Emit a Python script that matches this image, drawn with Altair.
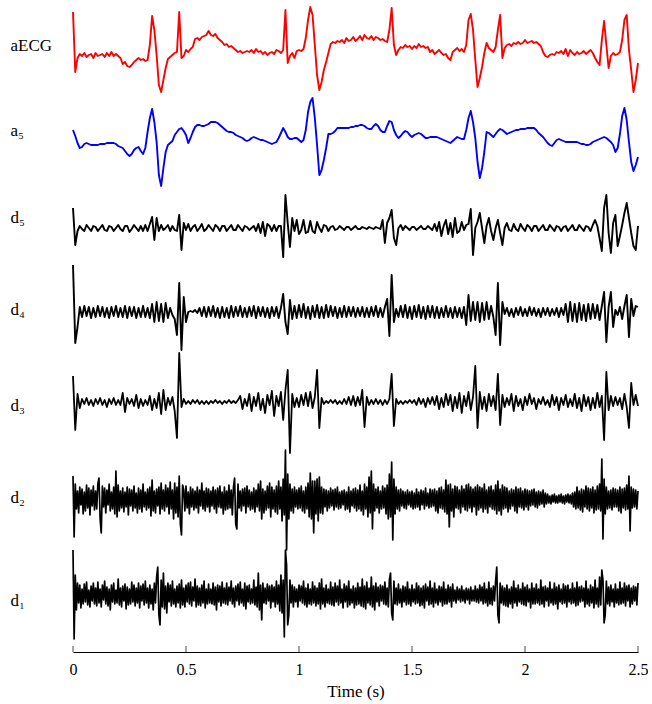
import altair as alt
import pandas as pd

tick_values = [0, 0.5, 1, 1.5, 2, 2.5]

# sampled every 0.01 s
aecg = [
    38, -22, -8, -4, -6, -3, -7, -5, -4, -8,
    -3, -6, -5, -4, -7, -3, -6, -2, -6, -4,
    -6, -8, -14, -12, -16, -17, -15, -12, -10, -8,
    -10, -9, -11, -10, 5, 34, 20, -5, -35, -42,
    -30, -18, -9, -7, -5, -3, -2, 38, -8, -6,
    0, -2, 1, 3, 11, 12, 10, 13, 14, 15,
    19, 15, 14, 16, 12, 10, 8, 5, 6, 3,
    4, 2, 0, -2, -1, -3, -2, -1, -2, 0,
    -3, 1, -2, -1, -4, -2, -5, -3, -2, -4,
    0, -1, -3, 0, 40, -13, -6, -3, -8, -1,
    0, -1, 1, 12, 30, 43, 35, 5, -25, -40,
    -32, -20, -12, -3, 6, 8, 7, 9, 8, 10,
    7, 12, 9, 10, 13, 9, 11, 14, 10, 15,
    12, 11, 14, 10, 13, 12, 10, 11, 9, 8,
    20, 42, 5, -5, 0, 3, 2, 5, 3, 4,
    1, 4, 2, 6, 3, 4, 2, 3, -2, 0,
    -4, -2, 0, -3, -5, -4, -8, -10, -2, 0,
    2, -1, 1, -2, 5, 30, 36, 20, -10, -37,
    -28, -17, -3, 7, 2, 0, -2, 3, 20, 35,
    -8, 2, 5, 6, 4, 7, 6, 8, 6, 7,
    10, 7, 8, 9, 7, 8, 6, 4, -2, -6,
    -7, -5, -4, -5, -2, -3, -1, -4, 1, -6,
    0, -3, -5, -2, -4, -3, -1, -4, -2, 0,
    -3, -8, -12, -15, 10, 29, 5, -18, -6, -3,
    -5, -4, -2, 10, 30, 35, 0, -20, -42, -30,
    -13,
]

# sampled every 0.01 s
a5 = [
    0, -6, -13, -18, -17, -14, -13, -14, -15, -15,
    -15, -15, -14, -14, -14, -13, -13, -13, -13, -14,
    -16, -17, -18, -21, -24, -26, -24, -20, -18, -17,
    -21, -24, -18, -2, 12, 21, 8, -12, -45, -56,
    -38, -22, -15, -13, -11, -5, -2, 1, 2, -1,
    -5, -13, -8, -2, 3, 5, 5, 4, 4, 5,
    6, 8, 8, 8, 7, 5, 3, 1, -1, -2,
    -2, -3, -5, -6, -7, -8, -10, -11, -10, -8,
    -7, -8, -9, -10, -10, -11, -12, -13, -14, -13,
    -12, -8, -3, 2, -2, -7, -9, -9, -8, -8,
    -10, -12, -10, 0, 18, 28, 32, 12, -15, -45,
    -40, -30, -18, -4, -4, -3, -1, 2, 2, 2,
    2, 2, 2, 3, 3, 4, 4, 5, 5, 4,
    2, 1, 1, 4, 6, 4, 0, -2, -2, 4,
    9, 8, 0, -5, -8, -6, -3, -1, -2, -5,
    -7, -5, -4, -3, -4, -6, -8, -8, -7, -7,
    -7, -7, -8, -9, -10, -11, -12, -13, -11, -9,
    -7, -8, -9, -9, 0, 12, 19, 8, -8, -32,
    -48, -38, -22, -2, -3, -5, -7, -4, -1, 1,
    0, -2, -4, -3, -2, -1, 0, 0, 1, 1,
    1, 2, 2, 2, 2, 0, -3, -5, -7, -10,
    -13, -15, -16, -13, -10, -9, -10, -11, -12, -12,
    -12, -12, -12, -12, -13, -14, -14, -15, -15, -14,
    -12, -11, -10, -9, -8, -7, -8, -10, -12, -15,
    -22, -18, -4, 14, 22, 10, -12, -32, -41, -35,
    -27,
]

# sampled every 0.01 s
d5 = [
    20, -17, -3, 2, -1, -3, 3, 0, -3, 2,
    1, -3, 0, 3, -2, -3, 2, 1, -3, 0,
    3, -1, -3, 2, 2, -4, -1, 3, 0, -3,
    2, -3, 3, -3, 4, 11, -12, 10, -3, 3,
    -2, 0, 3, -3, 2, -2, -3, 13, -22, 5,
    -2, 4, -3, 1, 3, -3, 0, 4, -3, -1,
    3, 0, -3, 3, 1, -3, 2, 2, -3, 0,
    3, -2, -2, 3, 0, -3, 2, 1, -2, 0,
    2, -3, 4, -5, 6, -8, 4, 2, -3, 3,
    -3, 2, 2, -29, 33, 5, -19, 10, -3, 8,
    -6, -2, 8, -5, -4, 7, -3, -5, 6, 0,
    -4, 3, 2, -3, 1, 2, -2, -1, 2, 0,
    -2, 1, 1, -2, 0, 2, -1, -1, 1, 0,
    -1, 1, 0, -1, 1, 0, -1, 8, -15, 5,
    10, 18, -10, -17, 0, 3, -2, 2, 0, -2,
    1, 1, -2, 0, 2, -1, -1, 2, 0, -2,
    4, -3, 6, -8, 2, 8, -6, 5, -9, 10,
    -5, -3, 6, -2, 3, 4, 19, -27, 0, 6,
    15, 0, -15, 2, 10, -3, -12, 0, 8, -5,
    -17, 0, 5, -2, -3, 4, -1, -3, 4, 0,
    -3, 3, 1, -3, 2, 2, -3, 0, 3, -2,
    -2, 3, 0, -3, 2, 1, -3, 1, 2, -3,
    0, 3, -2, -2, 3, 0, -3, 2, 1, -3,
    3, 8, 2, -10, -23, 20, 33, -5, -25, 5,
    13, -18, -8, 3, 15, 25, 10, -5, -18, -22,
    2,
]

# sampled every 0.01 s
d4 = [
    47, -31, -15, 5, -5, 6, -4, 5, -6, 4,
    -5, 6, -4, 5, -5, 4, -6, 5, -4, 6,
    -5, 4, -5, 6, -6, 5, -4, 5, -6, 4,
    -5, 6, -5, 4, -6, 8, -10, 10, -9, 8,
    -10, 9, -6, 4, -3, -7, -23, 29, -38, 15,
    -10, 0, 1, 0, 2, -1, 4, -4, 5, -5,
    5, -4, 6, -5, 4, -6, 5, -5, 4, -6,
    6, -5, 5, -4, 6, -5, 4, -5, 5, -4,
    6, -6, 5, -4, 5, -5, 4, -6, 5, -4,
    5, -6, 4, 18, -10, -22, 12, -7, 6, -6,
    7, -5, 8, -6, 5, -7, 6, -5, 7, -6,
    5, -6, 7, -5, 6, -4, 5, -6, 4, -5,
    6, -5, 5, -4, 5, -5, 4, -4, 5, -5,
    4, -5, 5, -4, 6, -5, 4, -5, 5, 13,
    -24, 37, -10, 3, -5, 6, -5, 7, -6, 5,
    -7, 6, -5, 7, -6, 5, -7, 6, -5, 6,
    -6, 5, -6, 4, -5, 6, -5, 4, -6, 5,
    -5, 4, -6, 5, -13, 17, -9, 10, -8, 10,
    -10, 9, -8, 10, -7, 6, -5, -23, 29, -33,
    10, -2, 4, -4, 3, -5, 4, -3, 5, -4,
    3, -4, 5, -3, 4, -4, 3, -5, 4, -3,
    4, -4, 3, -3, 4, -5, 4, -3, 8, -10,
    10, -9, 8, -10, 9, -8, 7, -9, 8, -7,
    8, -6, 7, -8, 6, 20, -30, 5, 20, -15,
    2, -3, 5, -7, 6, 17, -25, 13, -4, 6,
    5,
]

# sampled every 0.01 s
d3 = [
    26, -28, 8, -6, 3, -2, 4, -3, 2, -4,
    3, -2, 4, -3, 2, -5, 3, -2, 4, -3,
    2, -3, 9, -10, 4, -2, 3, -4, 7, -6,
    3, -4, 2, -3, 6, -8, 3, -6, 9, -12,
    12, -8, 4, -3, 5, -9, -36, 49, -5, 3,
    -2, 1, -2, 2, -1, 2, -2, 1, -2, 1,
    -2, 1, -1, 2, -1, 1, -2, 1, -1, 2,
    -1, 1, -1, 2, 6, -7, 3, -4, 8, -9,
    5, -4, 9, -8, 3, -11, 7, -3, 11, -14,
    6, -4, 10, -18, 12, 32, -51, 8, -5, 4,
    -5, 7, -3, 9, -4, 10, -6, 5, 32, -26,
    4, -2, 1, -1, 2, -1, 2, -2, 1, -2,
    3, -2, 5, -3, 6, -4, 5, -3, 12, -25,
    5, -3, 2, -2, 3, -2, 2, -3, 2, -2,
    3, 28, -24, 3, -2, 1, -2, 1, -1, 2,
    -1, 2, -3, 4, -2, 3, -5, 4, -2, 5,
    -3, 6, -7, 4, -5, 8, -3, 7, -9, 5,
    -6, 9, -11, 6, -4, 10, -8, 5, 36, -26,
    10, -7, 5, -9, 8, -4, 6, -8, 28, -23,
    7, -5, 4, -3, 8, -9, 6, -4, 3, -8,
    5, -3, 8, -2, 4, -7, 3, -2, 5, -3,
    2, -5, 7, -3, 5, -8, 4, -3, 7, -5,
    3, -4, 8, -6, 4, -9, 7, -4, 5, -8,
    4, -6, 9, -5, 6, -38, 30, -8, 6, -4,
    5, -3, 4, -7, 8, -5, -26, 19, -3, 7,
    -4,
]

# sampled every 0.005 s
d2 = [
    23, -38, 15, -10, 8, -14, 12, -6, 10, -15, 7, -12, 14, -9, 11, -16, 9, -7, 13, -11,
    8, -10, 15, 21, -20, -34, 13, -8, 11, -14, 9, -6, 15, -12, 7, -10, 12, -15, 28, -18,
    14, -12, 8, -9, 11, -13, 7, -8, 12, -16, 10, -7, 9, -12, 13, -9, 6, -14, 11, -10,
    9, -13, 15, -8, 7, -11, 10, -9, 12, -17, 19, -12, 8, -14, 10, -7, 12, -15, 16, -10,
    9, -12, 14, -8, 11, -15, 17, -10, 9, -20, 16, -14, 12, -18, 23, -25, -36, 14, 9, -12,
    13, -9, 7, -15, 12, -8, 10, -11, 8, -9, 12, -14, 9, -7, 16, -10, 8, -12, 11, -8,
    10, -13, 8, -7, 12, -10, 9, -14, 11, -8, 13, -9, 7, -15, 12, -11, 8, -10, 14, -9,
    9, -16, 12, 21, -25, -30, 15, -9, 8, -12, 10, -7, 11, -14, 13, -8, 9, -11, 7, -10,
    11, -13, 9, -8, 15, -12, 18, -20, 10, -14, 8, -11, 13, -9, 16, -18, 12, -10, 9, -13,
    13, -15, 18, -10, 12, -22, 20, -16, 49, -51, 25, -20, 15, -12, 10, -14, 12, -8, 9, -10,
    11, -9, 13, -12, 8, -14, 12, -10, 16, -18, 26, -20, 18, -34, 18, -15, 20, -22, 22, -14,
    12, -15, 10, -8, 9, -12, 8, -9, 11, -7, 9, -11, 10, -8, 12, -10, 7, -9, 8, -6,
    9, -11, 7, -10, 12, -13, 8, -7, 10, -9, 11, -12, 9, -10, 14, -12, 8, -16, 15, -10,
    12, -18, 22, -14, 28, -30, 15, -12, 10, -9, 12, -14, 8, -10, 13, -9, 11, -15, 14, -20,
    25, -18, 37, -41, 20, -15, 12, -10, 9, -12, 10, -7, 8, -9, 7, -10, 9, -6, 7, -8,
    8, -10, 6, -9, 10, -8, 7, -11, 9, -6, 8, -10, 11, -7, 6, -9, 10, -8, 9, -7,
    10, -12, 8, -14, 11, -9, 12, -10, 9, -13, 19, -15, 14, -28, 15, -12, 10, -18, 13, -9,
    12, -10, 9, -14, 13, -8, 10, -11, 14, -12, 15, -9, 12, -13, 10, -8, 12, -16, 14, -11,
    12, -9, 11, -13, 15, -10, 9, -14, 12, -8, 13, -10, 9, -11, 14, -15, 18, -12, 10, -16,
    14, -10, 12, -9, 11, -13, 8, -10, 10, -7, 9, -12, 12, -14, 10, -8, 11, -9, 8, -11,
    10, -8, 9, -11, 8, -7, 9, -6, 10, -8, 7, -9, 8, -6, 7, -5, 9, -8, 6, -5,
    5, -4, 3, -5, 4, -3, 5, -4, 3, -4, 4, -3, 5, -4, 3, -5, 4, -3, 5, -4,
    4, -5, 6, -8, 7, -10, 12, -9, 8, -11, 10, -13, 9, -8, 13, -10, 11, -12, 10, -9,
    12, -14, 9, -11, 13, -10, 15, -12, 40, -40, 20, -15, 12, -10, 8, -9, 9, -11, 11, -8,
    10, -8, 9, -12, 12, -14, 10, -9, 11, -11, 14, -10, 23, -32, 12, -9, 10, -8, 9, -10,
    8,
]

# sampled every 0.005 s
d1 = [
    45, -44, 20, -15, 12, -8, 10, -13, 6, -9, 11, -7, 13, -10, 5, -12, 9, -6, 12, -9,
    7, -11, 13, -8, 6, -12, 10, -5, 14, -9, 8, -11, 6, -15, 10, -7, 12, -9, 5, -8,
    16, -10, 7, -12, 9, -6, 11, -14, 8, -10, 6, -9, 13, -7, 10, -11, 7, -8, 12, -13,
    9, -6, 11, -10, 14, -8, 7, -13, 10, -9, 6, -15, 12, -8, 18, 28, -20, -30, 15, -12,
    22, -14, 9, -18, 12, -7, 10, -11, 14, -9, 6, -12, 9, -8, 11, -13, 15, -10, 7, -12,
    10, -7, 12, -9, 13, -11, 8, -6, 16, -12, 9, -10, 7, -11, 10, -8, 14, -13, 6, -9,
    11, -8, 6, -9, 12, -10, 8, -15, 10, -7, 9, -11, 13, -8, 7, -9, 12, -10, 8, -6,
    14, -9, 7, -12, 9, -6, 11, -10, 13, -8, 6, -11, 12, -14, 9, -7, 10, -9, 6, -8,
    15, -10, 8, -12, 22, -15, 10, -25, 12, -8, 7, -9, 11, -6, 9, -13, 10, -7, 8, -12,
    14, -9, 10, -16, 20, -18, 15, -42, 45, 30, -30, -20, 15, -8, 10, -12, 8, -7, 6, -12,
    10, -6, 9, -8, 14, -10, 7, -12, 11, -9, 6, -10, 13, -8, 9, -11, 7, -9, 12, -14,
    16, -9, 7, -12, 10, -8, 6, -9, 13, -10, 8, -11, 12, -7, 9, -10, 15, -8, 6, -13,
    11, -7, 9, -12, 14, -10, 6, -8, 9, -13, 7, -10, 12, -9, 8, -11, 16, -12, 9, -14,
    13, -8, 7, -10, 18, -12, 9, -15, 12, -7, 8, -11, 10, -6, 9, -9, 13, -10, 7, -12,
    15, 22, -18, -25, 14, -9, 7, -10, 11, -8, 6, -12, 9, -7, 8, -10, 13, -9, 6, -11,
    10, -7, 6, -9, 12, -8, 9, -11, 7, -10, 9, -13, 11, -6, 8, -10, 14, -9, 7, -12,
    12, -8, 6, -10, 9, -7, 8, -11, 13, -9, 6, -9, 10, -7, 8, -12, 11, -6, 5, -8,
    8, -5, 6, -7, 9, -6, 5, -8, 7, -5, 6, -9, 8, -6, 5, -6, 9, -7, 6, -8,
    10, -6, 8, -9, 12, -8, 6, -11, 13, -9, 7, -10, 9, -6, 14, 28, -20, -28, 12, -8,
    9, -10, 7, -11, 10, -12, 6, -9, 8, -13, 14, -8, 7, -11, 10, -7, 6, -9, 12, -10,
    8, -11, 10, -7, 6, -13, 12, -9, 7, -9, 11, -8, 6, -10, 15, -9, 8, -12, 9, -6,
    7, -11, 13, -8, 6, -10, 12, -9, 8, -14, 10, -7, 6, -9, 11, -8, 9, -12, 10, -7,
    6, -9, 12, -8, 7, -11, 13, -10, 8, -7, 9, -6, 7, -12, 14, -9, 6, -11, 10, -8,
    8, -13, 15, -9, 7, -12, 18, -10, 25, 15, -28, -20, 14, -9, 8, -11, 10, -7, 6, -12,
    11, -8, 6, -10, 13, -9, 7, -8, 12, -11, 9, -6, 10, -12, 7, -9, 9, -6, 8, -10,
    12,
]

series = [aecg, a5, d5, d4, d3, d2, d1]
steps = [0.01, 0.01, 0.01, 0.01, 0.01, 0.005, 0.005]
labels = ["aECG", "a\u2085", "d\u2085", "d\u2084", "d\u2083", "d\u2082", "d\u2081"]
colors = ["#ff0000", "#0000ff", "#000000", "#000000", "#000000", "#000000", "#000000"]
widths = [1.9, 1.9, 1.9, 1.9, 1.8, 1.7, 1.7]
domains = [(-47, 45), (-60, 33), (-32, 38), (-40, 52), (-46, 50), (-46, 51), (-57, 50)]
title_y = [40, 33, 27, 49, 53, 49, 55]

SERIF = "Liberation Serif"
PLOT_W = 565


def frame(vals, dt):
    return pd.DataFrame({"t": [round(i * dt, 3) for i in range(len(vals))], "v": vals})


def panel(k):
    vals, label, color, dom, ty = series[k], labels[k], colors[k], domains[k], title_y[k]
    h = dom[1] - dom[0]
    last = k == len(series) - 1
    if last:
        xaxis = alt.Axis(values=tick_values, format="~g", ticks=False, grid=False,
                         domainColor="black", domainWidth=1,
                         labelFont=SERIF, labelFontSize=16, labelColor="black",
                         labelPadding=9, labelFlush=False,
                         title="Time (s)", titleFont=SERIF, titleFontSize=17,
                         titleFontWeight="normal", titleColor="black", titlePadding=6)
    else:
        xaxis = None
    xenc = alt.X("t:Q", scale=alt.Scale(domain=[0, 2.5], nice=False, zero=False), axis=xaxis)
    yaxis = alt.Axis(title=label, titleAngle=0, titleAlign="left", titleBaseline="middle",
                     titleX=-63, titleY=ty, titleFont=SERIF, titleFontSize=17,
                     titleFontWeight="normal", titleColor="black",
                     labels=False, ticks=False, domain=False, grid=False)
    line = alt.Chart(frame(vals, steps[k])).mark_line(
        color=color, strokeWidth=widths[k], strokeJoin="round"
    ).encode(
        x=xenc,
        y=alt.Y("v:Q", scale=alt.Scale(domain=list(dom), nice=False, zero=False), axis=yaxis),
    )
    if last:
        ticks = alt.Chart(pd.DataFrame({"t": tick_values})).mark_tick(
            color="black", thickness=1, size=6
        ).encode(x=xenc, y=alt.value(h - 3))
        return alt.layer(line, ticks).properties(width=PLOT_W, height=h)
    return line.properties(width=PLOT_W, height=h)


chart = alt.vconcat(*[panel(k) for k in range(len(series))], spacing=0, bounds="flush").properties(
    padding={"left": 10, "top": 5, "right": 0, "bottom": 5},
    background="white",
).configure_view(stroke=None)

chart.save("out.html", embed_options={"renderer": "svg", "actions": False})
